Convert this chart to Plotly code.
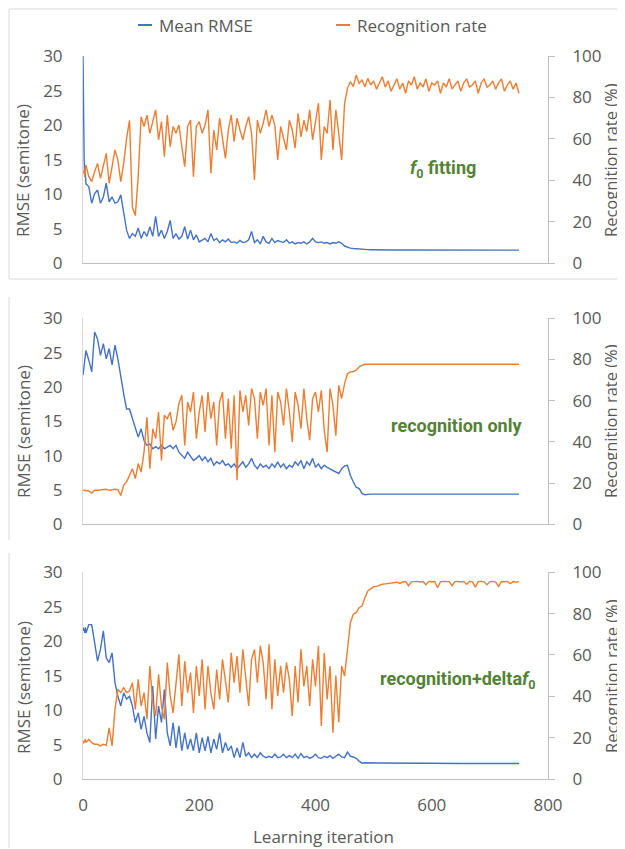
import plotly.graph_objects as go
from plotly.subplots import make_subplots

# learning iterations (dense at the very start, then every 5 iterations)
iterations = [0, 1, 2, 3, 4] + list(range(5, 755, 5))

# panel 1: f0 fitting
rmse_f0 = [
    30, 17, 15, 12.5, 13,
    11.5, 11.1, 8.7, 10.1, 10.6, 8.7, 9.6, 11.6, 8.9, 9.6, 8.7, 8.9, 9.9, 7.2, 4.8,
    3.6, 4.3, 3.9, 5.1, 3.6, 4.6, 3.9, 5.3, 3.9, 6.8, 3.9, 4.8, 3.6, 4.6, 6.2,
    3.6, 4.3, 3.5, 3.9, 5.3, 3.5, 4.8, 3.4, 4.1, 3.1, 3.3, 3.6, 3.1, 4.3, 3.3,
    3.6, 3.0, 3.4, 3.1, 3.5, 3.0, 3.1, 2.9, 3.3, 3.0, 3.1, 3.4, 4.6, 3.0, 3.4,
    2.8, 3.9, 3.1, 2.9, 3.6, 3.0, 3.3,
    3.1, 3.0, 3.4, 2.9, 3.1, 2.8, 3.0, 2.9, 3.1, 2.8, 3.1, 3.6, 3.1, 3.0, 3.1,
    2.9, 3.0, 2.8, 3.0, 2.9, 3.1, 2.9,
    2.5, 2.3, 2.2, 2.15, 2.1, 2.05, 2.0, 2.0, 1.98, 1.97,
    1.95, 1.95, 1.95, 1.94, 1.94, 1.94, 1.93, 1.93, 1.93, 1.93,
    1.92, 1.92, 1.92, 1.92, 1.92, 1.91, 1.91, 1.91, 1.91, 1.91,
    1.91, 1.91, 1.9, 1.9, 1.9, 1.9, 1.9, 1.9, 1.9, 1.9,
    1.9, 1.9, 1.9, 1.9, 1.9, 1.9, 1.9, 1.9, 1.9, 1.9,
    1.9, 1.9, 1.9, 1.9, 1.9, 1.9, 1.9, 1.9, 1.9, 1.9, 1.9,
]
rate_f0 = [
    44.2, 43.4, 45, 41.8, 45.8,
    47.4, 41.8, 39.4, 44.2, 48.2, 41, 46.6, 53, 38.6, 47.4, 54.7, 49.8, 39.4, 48.2, 60.3,
    69, 27, 23, 41.8, 70.7, 66, 71.5, 62.7, 68.3, 74, 59.5, 68.3, 51.4, 71.5, 56.3,
    66, 62.7, 66.7, 56.3, 46.6, 66, 69.1, 41.8, 66, 68.3, 62.7, 66.7, 74, 43.4, 64.3,
    54.7, 70, 60.3, 50.6, 64.3, 71.5, 58.7, 70, 64.3, 59.5, 66, 70.7, 62.7, 40.2, 69.1,
    62.7, 67.5, 74, 66, 71.5, 66.7, 49.8,
    66, 61, 54.7, 69, 64.3, 55.5, 72.3, 61, 69, 63.5, 74, 59.5, 68.3, 77.2, 49.8,
    66, 62.7, 78.8, 54.7, 74, 62.7, 49.8,
    77.2, 84.4, 87.6, 85.2, 90.8, 86.8, 88.4, 85.2, 89.2, 86,
    88, 84, 87, 90, 85, 88, 83, 86, 89, 84,
    87, 82, 88, 86, 90, 84, 87, 85, 89, 83,
    87, 86, 88, 82, 87, 85, 89, 84, 86, 88,
    83, 87, 89, 85, 86, 88, 82, 87, 89, 85,
    86, 88, 84, 87, 89, 83, 86, 88, 84, 87, 82,
]

# panel 2: recognition only
rmse_rec = [
    21.7, 22.4, 23.2, 23.6, 24.6,
    25.3, 23.9, 22.2, 28, 27, 24.6, 26.3, 24.1, 25.6, 23.2, 26.1, 24.1, 21.2, 19, 16.8,
    16.8, 15.4, 14.2, 12.7, 13.9, 12.2, 11.5, 11.7, 11, 11.3, 11, 11.5, 11, 11.3, 11.5,
    11, 11.5, 10.5, 10, 9.6, 10.5, 9.8, 9.3, 9.6, 10, 9.3, 9.8, 9.1, 9.6, 8.6,
    9.1, 8.8, 9.3, 8.6, 8.8, 8.3, 8.8, 8.1, 8.6, 9.1, 8.3, 8.8, 9.6, 8.6, 8.1,
    8.8, 8.3, 8.6, 8.1, 8.8, 8.3, 9.1,
    8.3, 8.8, 8.1, 8.6, 8.3, 9.1, 8.6, 9.3, 8.1, 9.1, 8.6, 9.6, 8.3, 8.8, 8.1,
    8.6, 8.3, 8.1, 7.9, 7.6, 7.4, 8.1,
    8.5, 8.6, 7.1, 6.2, 5.4, 5.2, 4.5, 4.3, 4.4, 4.4,
    4.4, 4.4, 4.4, 4.4, 4.4, 4.4, 4.4, 4.4, 4.4, 4.4,
    4.4, 4.4, 4.4, 4.4, 4.4, 4.4, 4.4, 4.4, 4.4, 4.4,
    4.4, 4.4, 4.4, 4.4, 4.4, 4.4, 4.4, 4.4, 4.4, 4.4,
    4.4, 4.4, 4.4, 4.4, 4.4, 4.4, 4.4, 4.4, 4.4, 4.4,
    4.4, 4.4, 4.4, 4.4, 4.4, 4.4, 4.4, 4.4, 4.4, 4.4, 4.4,
]
rate_rec = [
    16.5, 16.5, 16.5, 16.5, 16.5,
    16.3, 16.2, 15.2, 16.5, 16.5, 16.7, 16.8, 17, 16.5, 16.8, 17, 16.8, 14, 19, 20.6,
    23.8, 27, 22.2, 29.5, 25.4, 35, 52, 27, 46.4, 41.6, 54.5, 31, 52.9, 51.3, 54.5,
    45.6, 49.7, 58.6, 62.6, 38.3, 59.4, 54.5, 64.2, 41.6, 54.5, 62.6, 44.8, 64.2, 51.3, 59.4,
    38.3, 59.4, 64.2, 41.6, 61, 36.7, 62.6, 21.4, 65, 54.5, 62.6, 48, 65.9, 61, 41.6,
    64.2, 57.8, 65.9, 38.3, 62.6, 35, 64.2,
    59.4, 48, 65.9, 54.5, 40, 64.2, 57.8, 46.4, 65.9, 51.3, 40.8, 61, 64.2, 54.5, 65,
    45.6, 35, 65.9, 57.8, 43, 67.5, 61,
    68.3, 73.1, 74, 74.2, 74.8, 76.4, 77.2, 77.7, 77.7, 77.7,
    77.7, 77.7, 77.7, 77.7, 77.7, 77.7, 77.7, 77.7, 77.7, 77.7,
    77.7, 77.7, 77.7, 77.7, 77.7, 77.7, 77.7, 77.7, 77.7, 77.7,
    77.7, 77.7, 77.7, 77.7, 77.7, 77.7, 77.7, 77.7, 77.7, 77.7,
    77.7, 77.7, 77.7, 77.7, 77.7, 77.7, 77.7, 77.7, 77.7, 77.7,
    77.7, 77.7, 77.7, 77.7, 77.7, 77.7, 77.7, 77.7, 77.7, 77.7, 77.7,
]

# panel 3: recognition + delta f0
rmse_delta = [
    22, 21.5, 21.8, 21.2, 22,
    21.2, 22.4, 22.4, 19.8, 17.1, 18.8, 21.5, 17.6, 16.9, 18.3, 14, 12, 10.6, 12.5, 11.6,
    12, 10.6, 8.2, 9.6, 7.2, 9.1, 6.7, 5.3, 13.5, 5.8, 10.6, 8.2, 13, 6.7, 4.8,
    8.2, 4.5, 7.7, 4.1, 6.7, 4.3, 5.8, 4.1, 6.7, 3.8, 6, 4.1, 6.2, 3.8, 5.8,
    4.3, 6.7, 3.8, 5.3, 4.1, 4.8, 3.1, 4.5, 3.1, 5.3, 3.3, 3.8, 3.1, 3.6, 3.1,
    3.8, 3.3, 3.1, 3.3, 3.1, 3.6, 3.1,
    3.2, 3.6, 3.1, 3.4, 3.1, 3.6, 3.0, 3.7, 3.1, 3.3, 3.0, 3.2, 3.6, 3.1, 3.0,
    3.3, 3.1, 3.4, 3.0, 3.3, 3.6, 3.2,
    3.1, 3.9, 3.3, 3.2, 3.0, 2.6, 2.3, 2.35, 2.37, 2.35,
    2.34, 2.33, 2.33, 2.32, 2.32, 2.31, 2.31, 2.3, 2.3, 2.3,
    2.3, 2.3, 2.29, 2.29, 2.29, 2.28, 2.28, 2.28, 2.28, 2.27,
    2.27, 2.27, 2.27, 2.27, 2.26, 2.26, 2.26, 2.26, 2.26, 2.26,
    2.25, 2.25, 2.25, 2.25, 2.25, 2.25, 2.25, 2.25, 2.25, 2.25,
    2.25, 2.25, 2.25, 2.25, 2.25, 2.25, 2.25, 2.25, 2.25, 2.25, 2.25,
]
rate_delta = [
    18.4, 17.6, 17.9, 18.9, 19.2,
    17.6, 19.2, 17.6, 16.8, 16.8, 16, 16.8, 16.3, 24.8, 16, 33.7, 43.4, 41.8, 44.2, 41.8,
    42.6, 46.6, 33.7, 48.2, 35.3, 41.8, 28.9, 54.7, 37, 30.5, 50.6, 35.3, 28.9, 56.3, 40.2,
    32, 46.6, 60.3, 35.3, 57, 41.8, 51.5, 32, 54.7, 40.2, 57.9, 33.7, 54.7, 41.8, 33.7,
    53, 38.5, 57.9, 48.2, 37, 61, 46.6, 59.5, 41.8, 62.7, 50, 35.3, 57.9, 62.7, 46.6,
    64.4, 56.3, 38.5, 65.2, 33.7, 57.9, 40.2,
    54.7, 41.8, 56.3, 48.2, 30.5, 54.7, 37, 62.7, 44.8, 54.7, 35.3, 57.9, 44.8, 64.4, 25.6,
    61, 38.5, 54.7, 22.4, 50, 27.3, 54.7,
    49.8, 62.7, 75.6, 79.7, 80.5, 82.9, 83.7, 87.7, 91, 92,
    93, 93.2, 93.9, 94.2, 94.4, 94.6, 94.8, 95, 95.2, 94.6,
    95.3, 95.5, 93.5, 95.4, 95.5, 95.6, 95.3, 95.5, 94, 95.6,
    95.4, 95.5, 92.5, 95.5, 95.6, 95.4, 95.5, 93.5, 95.5, 95.6,
    95.3, 95.5, 94.2, 95.6, 95.4, 92.8, 95.5, 95.6, 95.4, 94,
    95.5, 95.6, 95.3, 93.2, 95.5, 95.4, 95.6, 94.5, 95.5, 95.2, 95.5,
]

panel_labels = ["<i>f</i><sub>0</sub> fitting", "recognition only", "recognition+delta<i>f</i><sub>0</sub>"]
rmse_ticks = [0, 5, 10, 15, 20, 25, 30]
rate_ticks = [0, 20, 40, 60, 80, 100]
iter_ticks = [0, 200, 400, 600, 800]

for s in [rmse_f0, rate_f0, rmse_rec, rate_rec, rmse_delta, rate_delta]:
    assert len(s) == len(iterations), len(s)

# the page body adds an 8px margin, so the figure is 8px smaller each way
# and all positions below are given in window pixels
OFF = 8
W, H = 625 - OFF, 849 - OFF
BLUE = "#4472C4"
ORANGE = "#ED7D31"
GREEN = "#548235"
GREY = "#595959"
FONT = "Open Sans"


def px(x):
    return (x - OFF) / W


def py(y):
    return 1 - (y - OFF) / H


fig = make_subplots(rows=3, cols=1, specs=[[{"secondary_y": True}]] * 3)

series = [(rmse_f0, rate_f0), (rmse_rec, rate_rec), (rmse_delta, rate_delta)]
for i, (rmse, rate) in enumerate(series):
    row = i + 1
    fig.add_trace(go.Scatter(x=iterations, y=rmse, mode="lines", name="Mean RMSE",
                             line=dict(color=BLUE, width=1.4), showlegend=False),
                  row=row, col=1, secondary_y=False)
    fig.add_trace(go.Scatter(x=iterations, y=rate, mode="lines", name="Recognition rate",
                             line=dict(color=ORANGE, width=1.4), showlegend=False),
                  row=row, col=1, secondary_y=True)

# panel positions in pixels (top, bottom of plot area)
panels = [(56, 263.3), (318.3, 524.3), (572.3, 779)]
xdom = [px(83), px(548)]
tickfont = dict(family=FONT, size=17, color=GREY)

layout = {}
for i, (top, bottom) in enumerate(panels):
    n = i + 1
    xname = "xaxis" if n == 1 else f"xaxis{n}"
    yl = "yaxis" if n == 1 else f"yaxis{2 * n - 1}"
    yr = f"yaxis{2 * n}"
    ydom = [py(bottom), py(top)]
    layout[xname] = dict(domain=xdom, range=[0, 800], tickvals=iter_ticks,
                         showticklabels=(n == 3), showgrid=False, zeroline=False,
                         showline=True, linecolor="#bfbfbf", linewidth=1,
                         ticks="", tickfont=tickfont, ticklabelstandoff=11, automargin=False)
    layout[yl] = dict(domain=ydom, range=[0, 30], tickvals=rmse_ticks, showgrid=False,
                      zeroline=False, showline=True, linecolor="#d9d9d9", ticks="",
                      tickfont=tickfont, ticklabelstandoff=16, automargin=False)
    layout[yr] = dict(range=[0, 100], tickvals=rate_ticks, showgrid=False, zeroline=False,
                      showline=True, linecolor="#bfbfbf", ticks="outside", ticklen=6,
                      tickcolor="#bfbfbf", tickfont=tickfont, ticklabelstandoff=14,
                      automargin=False)
fig.update_layout(**layout)

annotations = []
shapes = []

# axis titles
left_title_y = [171, 432, 688]
right_title_y = [160, 421, 676]
for i in range(3):
    annotations.append(dict(x=px(23), y=py(left_title_y[i]), xref="paper", yref="paper",
                            xanchor="center", yanchor="middle",
                            text="RMSE (semitone)", textangle=-90, showarrow=False,
                            font=dict(family=FONT, size=17, color=GREY)))
    annotations.append(dict(x=px(611), y=py(right_title_y[i]), xref="paper", yref="paper",
                            xanchor="center", yanchor="middle",
                            text="Recognition rate (%)", textangle=-90, showarrow=False,
                            font=dict(family=FONT, size=16.5, color=GREY)))

annotations.append(dict(x=px(323), y=py(836), xref="paper", yref="paper",
                        xanchor="center", yanchor="middle",
                        text="Learning iteration", showarrow=False,
                        font=dict(family=FONT, size=17, color=GREY)))

# panel labels
label_pos = [(443, 169), (456, 425), (458, 680)]
for text, (lx, ly) in zip(panel_labels, label_pos):
    annotations.append(dict(x=px(lx), y=py(ly), xref="paper", yref="paper", text=f"<b>{text}</b>",
                            xanchor="center", yanchor="middle",
                            showarrow=False, font=dict(family="Roboto", size=18, color=GREEN)))

# legend drawn by hand to match the short line samples
legend_items = [("Mean RMSE", BLUE, 138), ("Recognition rate", ORANGE, 336)]
for text, color, lx in legend_items:
    shapes.append(dict(type="line", xref="paper", yref="paper", x0=px(lx), x1=px(lx + 14),
                       y0=py(25), y1=py(25), line=dict(color=color, width=2)))
    annotations.append(dict(x=px(lx + 19), y=py(25), xref="paper", yref="paper", text=text,
                            xanchor="left", yanchor="middle", showarrow=False,
                            font=dict(family=FONT, size=17, color=GREY)))

# chart frames, kept inside the paper
frame = dict(color="#d9d9d9", width=1)
shapes.append(dict(type="rect", xref="paper", yref="paper", x0=px(9), x1=px(624),
                   y0=py(279), y1=py(9), line=frame))
shapes.append(dict(type="line", xref="paper", yref="paper", x0=px(9), x1=px(9),
                   y0=py(540), y1=py(297), line=frame))
shapes.append(dict(type="line", xref="paper", yref="paper", x0=px(9), x1=px(9),
                   y0=py(848), y1=py(553), line=frame))

fig.update_layout(width=W, height=H, margin=dict(l=0, r=0, t=0, b=0),
                  plot_bgcolor="white", paper_bgcolor="white", showlegend=False,
                  annotations=annotations, shapes=shapes,
                  font=dict(family=FONT, color=GREY))

fig.write_html("out.html")
